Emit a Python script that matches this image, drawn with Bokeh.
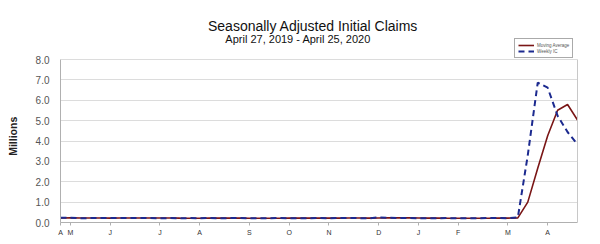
from bokeh.plotting import figure
from bokeh.models import Range1d, FixedTicker, Label, Legend, LegendItem, LinearAxis
from bokeh.embed import file_html
from bokeh.resources import INLINE

# Weekly dates from 2019-04-27 to 2020-04-25 (index 0..52)
weekly_ic = [0.230, 0.228, 0.212, 0.215, 0.218, 0.219, 0.222, 0.216, 0.227, 0.221,
             0.209, 0.216, 0.206, 0.217, 0.209, 0.220, 0.209, 0.215, 0.217, 0.204,
             0.208, 0.213, 0.219, 0.210, 0.214, 0.212, 0.218, 0.211, 0.225, 0.227,
             0.213, 0.203, 0.252, 0.234, 0.222, 0.220, 0.212, 0.207, 0.211, 0.216,
             0.202, 0.205, 0.210, 0.219, 0.216, 0.211, 0.251, 3.307, 6.867, 6.615,
             5.237, 4.442, 3.839]
moving_avg = [0.224, 0.226, 0.222, 0.221, 0.218, 0.216, 0.219, 0.219, 0.221, 0.222,
              0.218, 0.218, 0.213, 0.212, 0.212, 0.213, 0.214, 0.213, 0.215, 0.211,
              0.212, 0.211, 0.211, 0.213, 0.214, 0.214, 0.214, 0.214, 0.217, 0.220,
              0.219, 0.217, 0.224, 0.228, 0.228, 0.232, 0.222, 0.215, 0.213, 0.212,
              0.209, 0.209, 0.208, 0.209, 0.213, 0.214, 0.224, 1.000, 2.659, 4.260,
              5.507, 5.790, 5.033]
month_ticks = [0, 1, 5, 10, 14, 19, 23, 27, 32, 36, 40, 45, 49]
month_labels = ["A", "M", "J", "J", "A", "S", "O", "N", "D", "J", "F", "M", "A"]
y_ticks = [0, 1, 2, 3, 4, 5, 6, 7, 8]

title_text = "Seasonally Adjusted Initial Claims"
subtitle_text = "April 27, 2019 - April 25, 2020"
y_title = "Millions"

x = list(range(len(weekly_ic)))

Y_TOP = 10.896  # extra room above 8.0 for titles and legend

p = figure(width=600, height=244, output_backend="svg", toolbar_location=None,
           x_range=Range1d(0, 52), y_range=Range1d(0, Y_TOP),
           min_border_left=60, min_border_right=23, min_border_top=0, min_border_bottom=22)
p.outline_line_color = None
p.background_fill_color = "white"

p.xgrid.grid_line_color = None
p.ygrid.grid_line_color = "#dcdcdc"
p.ygrid.ticker = FixedTicker(ticks=y_ticks)

p.yaxis.ticker = FixedTicker(ticks=y_ticks)
p.yaxis.bounds = (0, 8)
p.yaxis.major_label_overrides = {t: f"{t:.1f}" for t in y_ticks}
p.yaxis.major_label_text_font = "Liberation Sans"
p.yaxis.major_label_text_font_size = "10px"
p.yaxis.major_label_text_color = "#555555"
p.yaxis.axis_line_color = "#b0b0b0"
p.yaxis.major_tick_line_color = None
p.yaxis.minor_tick_line_color = None
# trailing no-break spaces shift the centred label down to the middle of 0-8
p.yaxis.axis_label = y_title + "\u00a0" * 17
p.yaxis.axis_label_text_font = "Liberation Sans"
p.yaxis.axis_label_text_font_style = "bold"
p.yaxis.axis_label_text_font_size = "10.5px"
p.yaxis.axis_label_text_color = "#222222"
p.yaxis.axis_label_standoff = 14

right_axis = LinearAxis(bounds=(0, 8), ticker=FixedTicker(ticks=[]),
                        axis_line_color="#c8c8c8", major_tick_line_color=None,
                        minor_tick_line_color=None, major_label_text_font_size="0px")
p.add_layout(right_axis, "right")

p.xaxis.ticker = FixedTicker(ticks=month_ticks)
p.xaxis.major_label_overrides = {t: l for t, l in zip(month_ticks, month_labels)}
p.xaxis.major_label_text_font = "Liberation Sans"
p.xaxis.major_label_text_font_size = "7px"
p.xaxis.major_label_text_color = "#333333"
p.xaxis.axis_line_color = "#b0b0b0"
p.xaxis.major_tick_line_color = "#b0b0b0"
p.xaxis.major_tick_in = 0
p.xaxis.major_tick_out = 3
p.xaxis.minor_tick_line_color = None
p.xaxis.major_label_standoff = 3

r_ma = p.line(x, moving_avg, line_color="#7a1616", line_width=1.6)
r_ic = p.line(x, weekly_ic, line_color="#1c2a8f", line_width=2, line_dash="6 4")

p.add_layout(Label(x=25.4, y=9.62, text=title_text, text_font="Liberation Sans",
                   text_font_size="14px", text_align="center", text_baseline="middle",
                   text_color="#111111"))
p.add_layout(Label(x=23.9, y=9.0, text=subtitle_text, text_font="Liberation Sans",
                   text_font_size="11px", text_align="center", text_baseline="middle",
                   text_color="#111111"))

legend = Legend(items=[LegendItem(label="Moving Average", renderers=[r_ma]),
                       LegendItem(label="Weekly IC", renderers=[r_ic])],
                location=(454, 164), orientation="vertical",
                label_text_font="Liberation Sans", label_text_font_size="4.5px",
                label_text_color="#555555", glyph_width=16, glyph_height=6,
                label_height=6, spacing=0, padding=3, margin=0,
                label_standoff=3, border_line_color="#555555",
                background_fill_alpha=1.0)
p.add_layout(legend)

open("out.html", "w").write(file_html(p, INLINE))
